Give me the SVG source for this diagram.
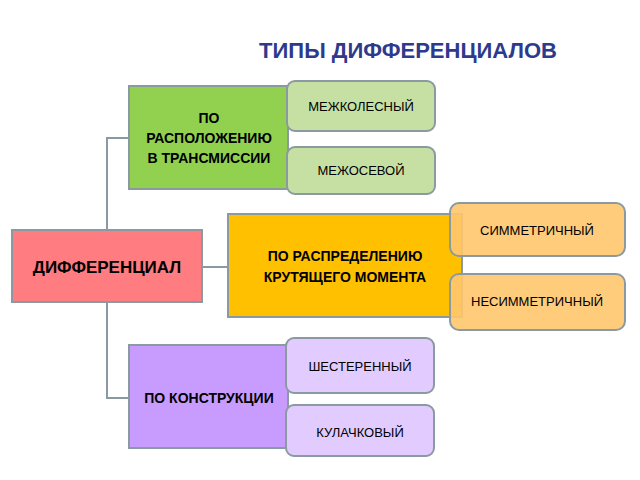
<svg xmlns="http://www.w3.org/2000/svg" width="640" height="480" viewBox="0 0 640 480">
<style>
text{font-family:"Liberation Sans",Arial,sans-serif;text-anchor:middle;fill:#000}
.b{font-weight:bold}
.n{stroke:#8A9AA0;stroke-width:2}
.c{stroke:#8A9AA0;stroke-width:2;fill:none}
.s{font-size:13px}
.m{font-size:14px;font-weight:bold}
</style>
<rect width="640" height="480" fill="#fff"/>
<text x="408" y="58" class="b" style="font-size:22px;fill:#2E3A8C">ТИПЫ ДИФФЕРЕНЦИАЛОВ</text>
<g id="connectors">
<path class="c" d="M129 138H107V398H129M202 267H228"/>
</g>
<g id="main"><rect class="n" x="12" y="230" width="190" height="72" fill="#FF7C80"/><text x="107" y="273" class="b" style="font-size:17px">ДИФФЕРЕНЦИАЛ</text></g>
<g id="loc"><rect class="n" x="129" y="86" width="159" height="103" fill="#92D050"/>
<text x="209" y="123" class="m">ПО</text><text x="209" y="143" class="m">РАСПОЛОЖЕНИЮ</text><text x="209" y="163" class="m">В ТРАНСМИССИИ</text></g>
<g id="mk"><rect class="n" x="287" y="81" width="148" height="50" rx="8" fill="#C6E0A4"/><text x="361" y="111" class="s">МЕЖКОЛЕСНЫЙ</text></g>
<g id="mo"><rect class="n" x="287" y="147" width="148" height="47" rx="8" fill="#C6E0A4"/><text x="361" y="175" class="s">МЕЖОСЕВОЙ</text></g>
<g id="tq"><rect class="n" x="228" y="214" width="234" height="103" fill="#FFC000"/>
<text x="345" y="261" class="m">ПО РАСПРЕДЕЛЕНИЮ</text><text x="345" y="282" class="m">КРУТЯЩЕГО МОМЕНТА</text></g>
<g id="sym"><rect class="n" x="450" y="203" width="175" height="53" rx="9" fill="#FFC66E" fill-opacity="0.9"/><text x="537" y="235" class="s">СИММЕТРИЧНЫЙ</text></g>
<g id="nsym"><rect class="n" x="450" y="274" width="175" height="56" rx="9" fill="#FFC66E" fill-opacity="0.9"/><text x="537" y="306" class="s">НЕСИММЕТРИЧНЫЙ</text></g>
<g id="con"><rect class="n" x="129" y="345" width="159" height="103" fill="#C89BFF"/><text x="209" y="403" class="m">ПО КОНСТРУКЦИИ</text></g>
<g id="gear"><rect class="n" x="286" y="338" width="148" height="55" rx="8" fill="#E2CCFF"/><text x="360" y="371" class="s">ШЕСТЕРЕННЫЙ</text></g>
<g id="cam"><rect class="n" x="286" y="405" width="148" height="51" rx="8" fill="#E2CCFF"/><text x="360" y="437" class="s">КУЛАЧКОВЫЙ</text></g>
</svg>
